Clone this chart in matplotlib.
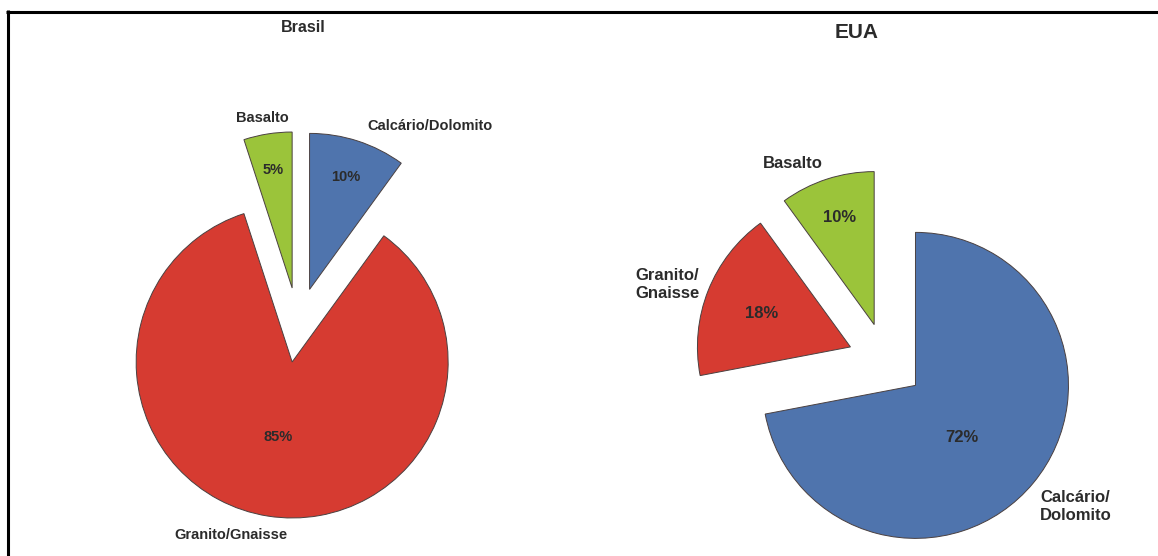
import matplotlib.pyplot as plt

plt.rcParams['font.family'] = ['Liberation Sans', 'DejaVu Sans']

W, H = 1158, 556

# Brasil: share of crushed-stone production by rock type (%)
br_labels = ['Calcário/Dolomito', 'Granito/Gnaisse', 'Basalto']
br_values = [10, 85, 5]

# EUA
us_labels = ['Calcário/\nDolomito', 'Granito/\nGnaisse', 'Basalto']
us_values = [72, 18, 10]

colors = ['#4f74ad', '#d63b31', '#9bc43a']
edge = '#4a4040'
text_color = '#2b2b2b'

fig = plt.figure(figsize=(W / 100, H / 100), dpi=100)
ax = fig.add_axes([0, 0, 1, 1])


def draw_pie(values, cx, cy, r, expl):
    # cx, cy in pixels from the top-left corner; explode is absolute in data units
    ax.pie(values, colors=colors, startangle=90, counterclock=False,
           radius=r, center=(cx, H - cy), explode=[expl * r] * len(values),
           wedgeprops=dict(edgecolor=edge, linewidth=0.7))


def label(x, y, s, size, **kw):
    ax.text(x, H - y, s, ha=kw.pop('ha', 'center'), va='center',
            fontsize=size, fontweight='bold', color=text_color, **kw)


draw_pie(br_values, 298, 325, 156, 0.24)
draw_pie(us_values, 886, 361, 153, 0.25)

# Brasil texts
label(303, 28, 'Brasil', 11.5)
label(430, 126, br_labels[0], 10.5)
label(231, 535, br_labels[1], 10.5)
label(262, 118, br_labels[2], 10.5)
label(346, 177, f'{br_values[0]}%', 10.5)
label(278, 437, f'{br_values[1]}%', 10.5)
label(273, 170, f'{br_values[2]}%', 10.5)

# EUA texts
label(857, 33, 'EUA', 15)
label(1112, 506, us_labels[0], 12, ha='right', multialignment='left', linespacing=1.25)
label(635, 284, us_labels[1], 12, ha='left', linespacing=1.25)
label(793, 163, us_labels[2], 12)
label(962, 437, f'{us_values[0]}%', 12)
label(762, 314, f'{us_values[1]}%', 12)
label(840, 218, f'{us_values[2]}%', 12)

# outer frame (top and left edges only)
ax.plot([6, W], [H - 11.5, H - 11.5], color='black', lw=2.2, solid_capstyle='butt')
ax.plot([7.5, 7.5], [0, H - 10], color='black', lw=2.2, solid_capstyle='butt')

ax.set_xlim(0, W)
ax.set_ylim(0, H)
ax.set_aspect('equal')
ax.axis('off')

fig.savefig('out.png', dpi=100)
